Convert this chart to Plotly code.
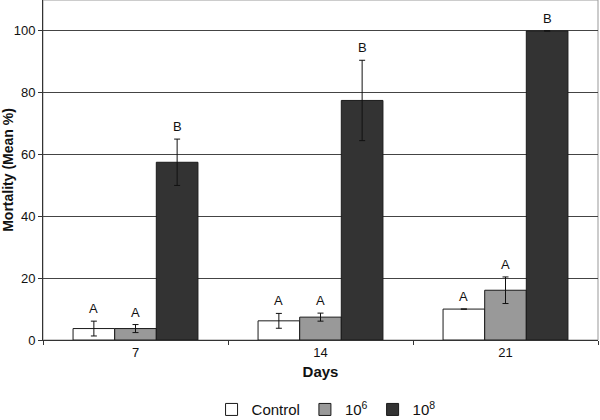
import plotly.graph_objects as go

days = ["7", "14", "21"]
series_names = ["Control", "10<sup>6</sup>", "10<sup>8</sup>"]
control = [3.7, 6.2, 10.0]
control_err = [2.4, 2.4, 0.0]
e6 = [3.7, 7.4, 16.1]
e6_err = [1.3, 1.3, 4.3]
e8 = [57.5, 77.5, 100.0]
e8_err = [7.5, 13.0, 0.0]
letters = [["A", "A", "A"], ["A", "A", "A"], ["B", "B", "B"]]
colors = ["#ffffff", "#999999", "#333333"]

values = [control, e6, e8]
errors = [control_err, e6_err, e8_err]

FONT = "Liberation Sans, Arial, sans-serif"
fig = go.Figure()
for name, vals, errs, col in zip(series_names, values, errors, colors):
    fig.add_trace(go.Bar(
        x=days, y=vals, name=name,
        marker=dict(color=col, line=dict(color="#1a1a1a", width=1)),
        error_y=dict(type="data", array=errs, visible=True, color="#111111", thickness=1, width=3),
    ))

bar_px = 41.6
shifts = [-bar_px, 0, bar_px]
for si, (vals, errs) in enumerate(zip(values, errors)):
    for ci, d in enumerate(days):
        # category axes position annotations by category index
        fig.add_annotation(
            x=ci, y=vals[ci] + errs[ci], text=letters[si][ci], showarrow=False,
            xshift=shifts[si], yshift=3, yanchor="bottom",
            font=dict(family=FONT, size=13, color="#111111"),
        )

fig.update_layout(
    width=600, height=420,
    margin=dict(l=43, r=2, t=0, b=80, autoexpand=False),
    paper_bgcolor="white", plot_bgcolor="white",
    barmode="group", bargap=0.325, bargroupgap=0,
    font=dict(family=FONT, size=12, color="#111111"),
    legend=dict(orientation="h", x=0.51, xanchor="center", y=-0.205, yanchor="middle",
                font=dict(family=FONT, size=15, color="#111111"), itemwidth=30,
                traceorder="normal", tracegroupgap=0),
    xaxis=dict(
        type="category", range=[-0.5, 2.5], automargin=False,
        title=dict(text="<b>Days</b>", font=dict(family=FONT, size=15), standoff=7),
        showline=True, linecolor="#333333", linewidth=1,
        ticks="outside", tickson="boundaries", ticklen=4, tickcolor="#333333",
        tickfont=dict(family=FONT, size=13), showgrid=False, tickangle=0,
    ),
    yaxis=dict(
        automargin=False,
        title=dict(text="<b>Mortality (Mean %)</b>", font=dict(family=FONT, size=14), standoff=2),
        range=[0, 110], tickvals=[0, 20, 40, 60, 80, 100],
        showline=True, linecolor="#333333", linewidth=1,
        ticks="outside", ticklen=4, tickcolor="#333333",
        tickfont=dict(family=FONT, size=13),
        showgrid=True, gridcolor="#444444", gridwidth=1, zeroline=False,
    ),
    shapes=[dict(type="rect", xref="paper", yref="paper", x0=0, x1=1, y0=0, y1=1,
                 line=dict(color="#999999", width=1), layer="below")],
)

fig.write_html("out.html", config={"displayModeBar": False},
               post_script="document.body.style.margin='0';")
